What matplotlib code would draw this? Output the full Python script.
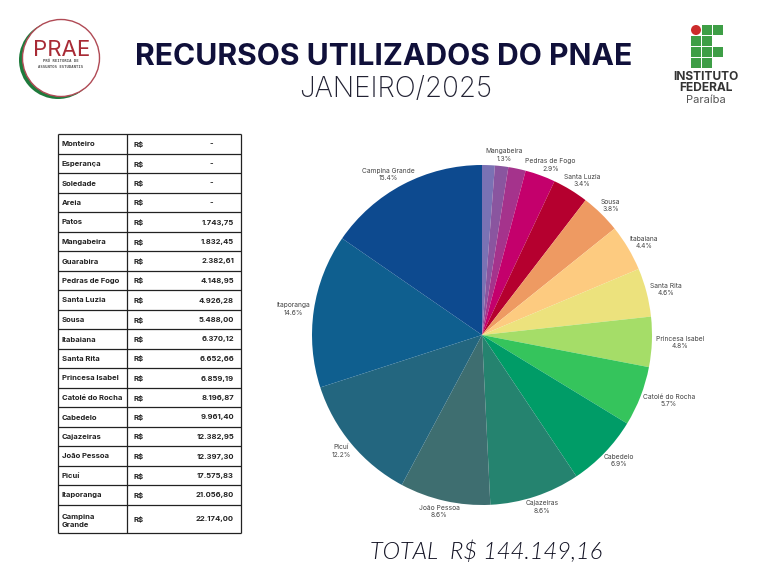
import math
import matplotlib
matplotlib.use("Agg")
import matplotlib.pyplot as plt
from matplotlib.patches import Circle, Rectangle

plt.rcParams['font.family'] = ['Inter', 'DejaVu Sans']

names = ["Monteiro", "Esperança", "Soledade", "Areia", "Patos", "Mangabeira", "Guarabira",
         "Pedras de Fogo", "Santa Luzia", "Sousa", "Itabaiana", "Santa Rita", "Princesa Isabel",
         "Catolé do Rocha", "Cabedelo", "Cajazeiras", "João Pessoa", "Picuí", "Itaporanga",
         "Campina Grande"]
values = [0, 0, 0, 0, 1743.75, 1832.45, 2382.61, 4148.95, 4926.28, 5488.00, 6370.12, 6652.66,
          6859.19, 8196.87, 9961.40, 12382.95, 12397.30, 17575.83, 21056.80, 22174.00]
colors_by_name = {
    "Patos": "#7A72B4", "Mangabeira": "#8A559F", "Guarabira": "#A5338C",
    "Pedras de Fogo": "#C4006C", "Santa Luzia": "#B5002F", "Sousa": "#EE9A62",
    "Itabaiana": "#FDCB80", "Santa Rita": "#ECE27D", "Princesa Isabel": "#A5DD68",
    "Catolé do Rocha": "#35C45C", "Cabedelo": "#009C67", "Cajazeiras": "#25836F",
    "João Pessoa": "#3E6E70", "Picuí": "#23667F", "Itaporanga": "#0F5F8F",
    "Campina Grande": "#0D4A8F"}
hidden_labels = {"Patos", "Guarabira"}
total_label = "TOTAL  R$ 144.149,16"
title = "RECURSOS UTILIZADOS DO PNAE"
subtitle = "JANEIRO/2025"
W, H = 768, 576

def brl(v):
    return f"{v:,.2f}".replace(",", "X").replace(".", ",").replace("X", ".") if v else "-"

fig = plt.figure(figsize=(W / 100, H / 100), dpi=100, facecolor="white")

# page overlay in pixel coordinates
page = fig.add_axes([0, 0, 1, 1])
page.set_xlim(0, W)
page.set_ylim(H, 0)
page.axis("off")

page.text(384, 57, title, ha="center", va="center", fontsize=21.7, fontweight="bold", color="#10103A")
page.text(395.5, 90, subtitle, ha="center", va="center", fontsize=20, fontweight="light", color="#222233")
page.text(486, 552, total_label, ha="center", va="center", fontsize=17, fontweight=300,
          style="italic", family=["Lato", "DejaVu Sans"], color="#111122")

# table
row_edges = [134, 154, 173, 193, 212, 232, 251, 271, 290, 310, 329, 349, 368, 388, 407, 427,
             446, 466, 485, 505, 533]
x0, x1, x2 = 58, 127, 241
for y in row_edges:
    page.plot([x0, x2], [y, y], color="#222222", lw=0.9, solid_capstyle="butt")
for x in (x0, x1, x2):
    page.plot([x, x], [row_edges[0], row_edges[-1]], color="#222222", lw=0.9, solid_capstyle="butt")
fs = 5.5
for i, (n, v) in enumerate(zip(names, values)):
    yc = (row_edges[i] + row_edges[i + 1]) / 2
    label = "Campina\nGrande" if n == "Campina Grande" else n
    page.text(62, yc, label, ha="left", va="center_baseline", fontsize=fs, fontweight="bold",
              color="#222222", linespacing=1.5)
    page.text(134, yc, "R$", ha="left", va="center_baseline", fontsize=fs, fontweight="bold", color="#222222")
    if v:
        page.text(234, yc, brl(v), ha="right", va="center_baseline", fontsize=fs, fontweight="bold", color="#222222")
    else:
        page.text(211, yc, brl(v), ha="center", va="center_baseline", fontsize=fs, fontweight="bold", color="#222222")

# PRAE logo
page.add_patch(Circle((58, 60), 39, fc="#1E7A3C", ec="none"))
page.add_patch(Circle((61, 58), 38.5, fc="white", ec="#B04A55", lw=1.0, zorder=3))
page.text(62, 50, "PRAE", ha="center", va="center", fontsize=16, fontweight="normal",
          color="#A82A35", zorder=4)
page.text(61, 64, "PRÓ REITORIA DE\nASSUNTOS ESTUDANTIS", ha="center", va="center", fontsize=2.8,
          family=["DejaVu Sans Mono"], fontweight="bold", color="#555555", zorder=4, linespacing=1.5)

# IFPB logo
cols = [691, 702, 713]
rows = [25, 36, 47, 58]
cells = [(0, 1), (0, 2), (1, 0), (1, 1), (2, 0), (2, 1), (2, 2), (3, 0), (3, 1)]
for r, c in cells:
    page.add_patch(Rectangle((cols[c], rows[r]), 9.5, 9.5, fc="#3E9E46", ec="none"))
page.add_patch(Circle((696, 30), 5, fc="#CC2B2B", ec="none"))
page.text(706, 77, "INSTITUTO", ha="center", va="center", fontsize=8.6, fontweight="bold", color="#333333")
page.text(706, 88, "FEDERAL", ha="center", va="center", fontsize=8.6, fontweight="bold", color="#333333")
page.text(706, 100, "Paraíba", ha="center", va="center", fontsize=8, color="#555555")

# pie
cx, cy, radius = 482, 335, 170
span = radius * 2 * 1.25
ax = fig.add_axes([(cx - span / 2) / W, 1 - (cy + span / 2) / H, span / W, span / H])
pie_names = [n for n, v in zip(names, values) if v > 0]
pie_values = [v for v in values if v > 0]
total = sum(pie_values)
labels = ["" if n in hidden_labels else f"{n}\n{v / total * 100:.1f}%" for n, v in zip(pie_names, pie_values)]
wedges, texts = ax.pie(pie_values, labels=labels, colors=[colors_by_name[n] for n in pie_names],
                       startangle=90, counterclock=False, labeldistance=1.025,
                       wedgeprops={"linewidth": 0})
ax.set_xlim(-1.25, 1.25)
ax.set_ylim(-1.25, 1.25)
renderer = fig.canvas.get_renderer()
for w, t in zip(wedges, texts):
    t.set_ha("center")
    t.set_va("center")
    t.set_multialignment("center")
    t.set_fontsize(4.8)
    t.set_color("#444444")
    t.set_linespacing(1.3)
    ext = t.get_window_extent(renderer)
    mid = math.radians((w.theta1 + w.theta2) / 2)
    x, y = t.get_position()
    t.set_position((x + 0.5 * ext.width / radius * math.cos(mid),
                    y + 0.5 * ext.height / radius * math.sin(mid)))

fig.savefig("out.png", dpi=100)
